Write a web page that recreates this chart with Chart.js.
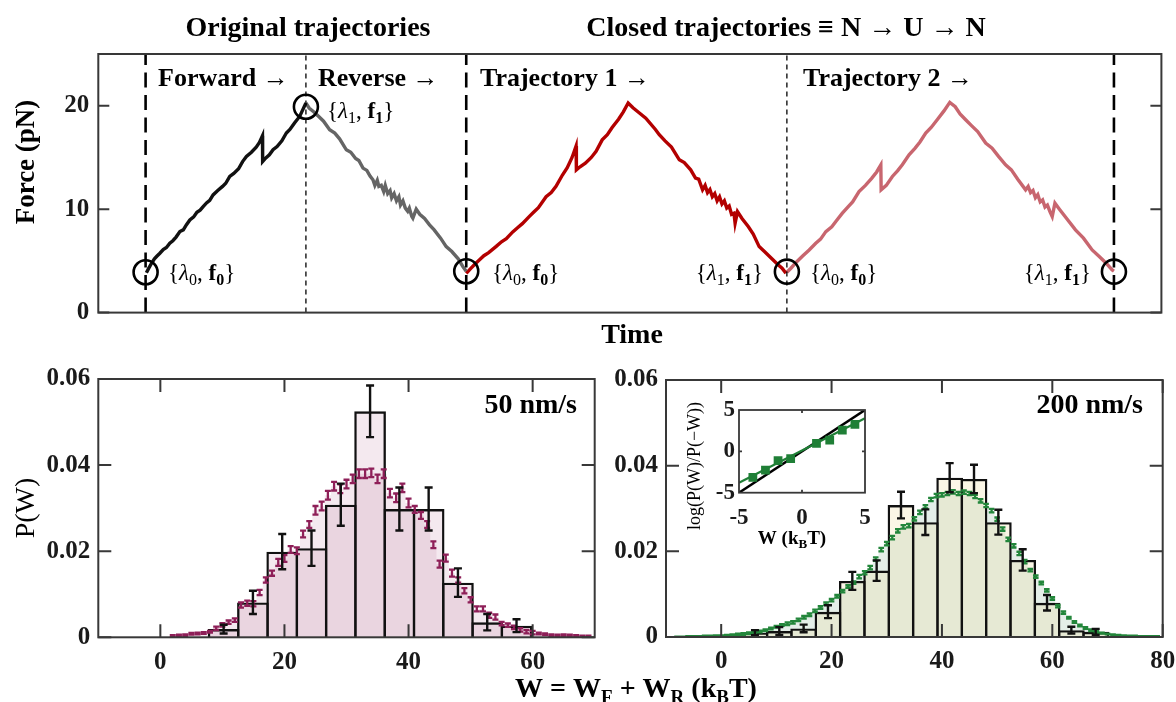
<!DOCTYPE html>
<html>
<head>
<meta charset="utf-8">
<script src="https://cdn.jsdelivr.net/npm/chart.js@4.4.1/dist/chart.umd.min.js"></script>
<style>
  body { margin: 0; background: #fff; }
  #wrap { position: relative; width: 1176px; height: 702px; }
  #wrap canvas { position: absolute; left: 0; top: 0; }
</style>
</head>
<body>
<div id="wrap">
  <canvas id="topChart" width="1176" height="702"></canvas>
  <canvas id="slowChart" width="1176" height="702"></canvas>
  <canvas id="fastChart" width="1176" height="702"></canvas>
  <canvas id="insetChart" width="1176" height="702"></canvas>
</div>
<script>
// ---------- top panel: force vs time (time in arbitrary units, 10 = one half cycle)
const fwdT = [0.05, 0.2, 0.37, 0.55, 0.7, 0.89, 1.1, 1.3, 1.51, 1.7, 1.9, 2.14, 2.35, 2.55, 2.76, 3.0, 3.2, 3.4, 3.59, 3.8, 4.0, 4.21, 4.5, 4.8, 5.0, 5.25, 5.5, 5.8, 6.05, 6.29, 6.6, 6.9, 7.1, 7.29, 7.3, 7.5, 7.72, 7.95, 8.2, 8.5, 8.78, 9.0, 9.3, 9.61, 9.8, 10.0];
const fwdF = [3.86, 4.3, 4.77, 5.2, 5.45, 5.74, 6.1, 6.3, 6.71, 6.95, 7.3, 7.83, 8.0, 8.5, 8.96, 9.25, 9.7, 9.9, 10.25, 10.6, 10.85, 11.38, 11.8, 12.2, 12.5, 13.16, 13.45, 13.9, 14.6, 15.09, 15.5, 16.0, 16.45, 17.1, 14.6, 14.95, 15.25, 15.74, 16.05, 16.6, 17.36, 17.7, 18.35, 18.96, 19.6, 20.26];

const revT = [10.0, 10.2, 10.5, 10.8, 11.1, 11.48, 11.8, 12.1, 12.52, 12.8, 13.1, 13.3, 13.56, 13.8, 14.0, 14.18, 14.3, 14.45, 14.55, 14.7, 14.85, 14.95, 15.1, 15.25, 15.35, 15.5, 15.65, 15.8, 15.9, 16.05, 16.2, 16.35, 16.45, 16.6, 16.67, 16.88, 17.1, 17.4, 17.71, 18.0, 18.4, 18.75, 19.1, 19.5, 19.79, 20.0];
const revF = [20.26, 19.78, 19.4, 18.95, 18.5, 17.68, 17.35, 16.8, 15.74, 15.5, 14.9, 14.7, 13.97, 13.75, 13.2, 12.84, 12.3, 12.8, 12.2, 12.3, 11.7, 12.3, 11.5, 11.8, 11.1, 11.5, 10.8, 11.2, 10.4, 10.8, 10.1, 9.8, 10.1, 9.3, 9.13, 10.0, 9.5, 9.1, 8.48, 8.0, 7.2, 6.38, 5.9, 5.2, 4.44, 4.0];

const tr1T = [20.0, 20.3, 20.55, 20.83, 21.1, 21.4, 21.87, 22.2, 22.5, 22.9, 23.2, 23.5, 23.94, 24.2, 24.5, 24.98, 25.3, 25.6, 26.0, 26.3, 26.6, 26.85, 26.87, 27.1, 27.43, 27.8, 28.1, 28.48, 28.8, 29.1, 29.5, 29.8, 30.1, 30.4, 30.8, 31.2, 31.8, 32.04, 32.4, 32.8, 33.29, 33.6, 34.0, 34.3, 34.5, 34.74, 34.9, 35.05, 35.2, 35.35, 35.5, 35.65, 35.8, 35.95, 36.1, 36.25, 36.4, 36.55, 36.7, 36.77, 36.92, 37.2, 37.6, 37.9, 38.27, 38.6, 39.0, 39.4, 39.7, 39.94];
const tr1F = [3.8, 4.3, 4.7, 5.1, 5.5, 5.8, 6.4, 6.85, 7.15, 7.8, 8.2, 8.6, 9.3, 9.7, 10.15, 11.2, 11.6, 12.2, 13.3, 14.0, 15.0, 16.1, 13.8, 14.1, 14.45, 15.0, 15.6, 16.7, 17.2, 17.9, 18.7, 19.4, 20.26, 19.8, 19.3, 18.8, 17.7, 17.2, 16.6, 16.0, 14.77, 14.5, 13.8, 13.0, 12.9, 11.87, 12.3, 11.6, 11.9, 11.2, 11.5, 10.8, 11.2, 10.5, 10.8, 10.1, 10.3, 9.5, 9.6, 8.64, 9.77, 9.1, 8.3, 7.6, 6.38, 5.9, 5.3, 4.7, 4.3, 3.8];

const tr2T = [40.0, 40.25, 40.6, 41.0, 41.39, 41.8, 42.1, 42.43, 42.8, 43.1, 43.46, 43.8, 44.1, 44.5, 44.9, 45.3, 45.6, 45.86, 45.88, 46.2, 46.58, 46.9, 47.2, 47.62, 48.0, 48.3, 48.66, 49.0, 49.4, 49.8, 50.16, 50.5, 50.8, 51.15, 51.5, 51.9, 52.4, 52.8, 53.2, 53.64, 54.0, 54.4, 54.89, 55.05, 55.2, 55.35, 55.5, 55.65, 55.8, 55.95, 56.1, 56.25, 56.4, 56.55, 56.72, 57.0, 57.4, 58.0, 58.5, 59.04, 59.5, 59.9, 60.29, 60.4];
const tr2F = [3.9, 4.29, 4.9, 5.5, 6.06, 6.7, 7.1, 7.83, 8.3, 8.9, 9.61, 10.2, 10.7, 11.7, 12.3, 13.0, 13.6, 14.29, 11.87, 12.3, 13.16, 13.7, 14.3, 15.26, 15.9, 16.5, 17.36, 17.9, 18.7, 19.5, 20.32, 19.9, 19.2, 18.64, 18.1, 17.5, 16.39, 15.9, 15.1, 14.29, 13.8, 12.9, 11.87, 12.2, 11.6, 11.8, 11.1, 11.4, 10.7, 10.9, 10.2, 10.4, 9.8, 9.29, 10.58, 10.0, 9.2, 8.0, 7.2, 6.06, 5.4, 4.8, 4.12, 4.0];

const markT = [0, 10, 20, 40, 60.4];        // circled {lambda, f} points
const markF = [3.9, 19.9, 4.0, 3.96, 3.96];
const dashT = [0, 20, 60.4];                // thick dashed separators
const dotT = [10, 40];                      // thin dotted separators
const forceRange = [0, 25];
const forceTicks = [0, 10, 20];

// ---------- bottom left: 50 nm/s
const slowBinW = [10.2, 14.92, 19.64, 24.36, 29.08, 33.8, 38.52, 43.24, 47.96, 52.68, 57.4];
const slowBinP = [0.0019, 0.0081, 0.0199, 0.0207, 0.0308, 0.0525, 0.0298, 0.0298, 0.0127, 0.0035, 0.0027];
const slowBinE = [0.0010, 0.0027, 0.0041, 0.0041, 0.0049, 0.0060, 0.0050, 0.0050, 0.0033, 0.0019, 0.0015];

const slowFineW = [2, 3, 4, 5, 6, 7, 8, 9, 10, 11, 12, 13, 14, 15, 16, 17, 18, 19, 20, 21, 22, 23, 24, 25, 26, 27, 28, 29, 30, 31, 32, 33, 34, 35, 36, 37, 38, 39, 40, 41, 42, 43, 44, 45, 46, 47, 48, 49, 50, 51, 52, 53, 54, 55, 56, 57, 58, 59, 60, 61, 62, 63, 64, 65, 66, 67, 68, 69];
const slowFineP = [0.0003, 0.0004, 0.0005, 0.0008, 0.0009, 0.0010, 0.0013, 0.0021, 0.0029, 0.0035, 0.0040, 0.0075, 0.0079, 0.0078, 0.0104, 0.0133, 0.0149, 0.0174, 0.0183, 0.0204, 0.0201, 0.0240, 0.0262, 0.0295, 0.0305, 0.0330, 0.0351, 0.0345, 0.0356, 0.0368, 0.0380, 0.0380, 0.0382, 0.0368, 0.0380, 0.0335, 0.0324, 0.0347, 0.0312, 0.0297, 0.0283, 0.0262, 0.0215, 0.0170, 0.0184, 0.0149, 0.0133, 0.0108, 0.0087, 0.0066, 0.0066, 0.0051, 0.0047, 0.0032, 0.0028, 0.0023, 0.0017, 0.0013, 0.0011, 0.0009, 0.0007, 0.0005, 0.0004, 0.0005, 0.0004, 0.0003, 0.0002, 0.0002];
const slowFineE = [0.0002, 0.0002, 0.0002, 0.0002, 0.0002, 0.0002, 0.0002, 0.0004, 0.0004, 0.0004, 0.0004, 0.0006, 0.0006, 0.0006, 0.0006, 0.0006, 0.0006, 0.0008, 0.0008, 0.0008, 0.0008, 0.0008, 0.0008, 0.0010, 0.0010, 0.0010, 0.0010, 0.0010, 0.0010, 0.0010, 0.0010, 0.0010, 0.0010, 0.0010, 0.0010, 0.0010, 0.0010, 0.0010, 0.0010, 0.0008, 0.0008, 0.0008, 0.0008, 0.0008, 0.0008, 0.0008, 0.0006, 0.0006, 0.0006, 0.0006, 0.0006, 0.0006, 0.0006, 0.0004, 0.0004, 0.0004, 0.0004, 0.0004, 0.0004, 0.0002, 0.0002, 0.0002, 0.0002, 0.0002, 0.0002, 0.0002, 0.0002, 0.0002];
const slowXTicks = [0, 20, 40, 60];

// ---------- bottom right: 200 nm/s
const fastBinW = [6.12, 10.53, 14.94, 19.35, 23.76, 28.17, 32.58, 36.99, 41.4, 45.81, 50.22, 54.63, 59.04, 63.45, 67.86];
const fastBinP = [0.0010, 0.0014, 0.0020, 0.0059, 0.0131, 0.0155, 0.0308, 0.0268, 0.0372, 0.0369, 0.0268, 0.0180, 0.0080, 0.0016, 0.0012];
const fastBinE = [0.0006, 0.0009, 0.0009, 0.0015, 0.0021, 0.0024, 0.0031, 0.0030, 0.0034, 0.0033, 0.0029, 0.0025, 0.0018, 0.0008, 0.0007];

const fastFineW = [-8, -7, -6, -5, -4, -3, -2, -1, 0, 1, 2, 3, 4, 5, 6, 7, 8, 9, 10, 11, 12, 13, 14, 15, 16, 17, 18, 19, 20, 21, 22, 23, 24, 25, 26, 27, 28, 29, 30, 31, 32, 33, 34, 35, 36, 37, 38, 39, 40, 41, 42, 43, 44, 45, 46, 47, 48, 49, 50, 51, 52, 53, 54, 55, 56, 57, 58, 59, 60, 61, 62, 63, 64, 65, 66, 67, 68, 69, 70, 71, 72, 73, 74, 75, 76, 77, 78, 79];
const fastFineP = [0.0000, 0.0000, 0.0001, 0.0001, 0.0001, 0.0002, 0.0002, 0.0003, 0.0003, 0.0004, 0.0005, 0.0006, 0.0007, 0.0009, 0.0011, 0.0013, 0.0016, 0.0020, 0.0024, 0.0028, 0.0031, 0.0034, 0.0040, 0.0046, 0.0052, 0.0061, 0.0069, 0.0078, 0.0086, 0.0095, 0.0107, 0.0118, 0.0127, 0.0141, 0.0150, 0.0162, 0.0182, 0.0204, 0.0218, 0.0232, 0.0248, 0.0257, 0.0260, 0.0276, 0.0291, 0.0304, 0.0321, 0.0330, 0.0332, 0.0335, 0.0339, 0.0335, 0.0338, 0.0335, 0.0328, 0.0318, 0.0307, 0.0295, 0.0275, 0.0252, 0.0228, 0.0213, 0.0195, 0.0176, 0.0156, 0.0141, 0.0126, 0.0109, 0.0090, 0.0072, 0.0057, 0.0045, 0.0035, 0.0027, 0.0021, 0.0016, 0.0012, 0.0009, 0.0007, 0.0005, 0.0004, 0.0003, 0.0002, 0.0002, 0.0001, 0.0001, 0.0001, 0.0001];
const fastFineE = [0.0001, 0.0001, 0.0001, 0.0001, 0.0001, 0.0001, 0.0001, 0.0001, 0.0001, 0.0001, 0.0001, 0.0002, 0.0002, 0.0002, 0.0002, 0.0002, 0.0002, 0.0002, 0.0002, 0.0002, 0.0003, 0.0003, 0.0003, 0.0003, 0.0003, 0.0003, 0.0003, 0.0003, 0.0003, 0.0003, 0.0003, 0.0003, 0.0003, 0.0004, 0.0004, 0.0004, 0.0004, 0.0004, 0.0004, 0.0004, 0.0004, 0.0004, 0.0004, 0.0004, 0.0004, 0.0004, 0.0004, 0.0004, 0.0004, 0.0004, 0.0004, 0.0004, 0.0004, 0.0004, 0.0004, 0.0004, 0.0004, 0.0004, 0.0004, 0.0004, 0.0004, 0.0004, 0.0004, 0.0004, 0.0003, 0.0003, 0.0003, 0.0003, 0.0003, 0.0003, 0.0003, 0.0002, 0.0002, 0.0002, 0.0002, 0.0002, 0.0002, 0.0001, 0.0001, 0.0001, 0.0001, 0.0001, 0.0001, 0.0001, 0.0001, 0.0001, 0.0001, 0.0001];
const fastXTicks = [0, 20, 40, 60, 80];
const probTicks = [0, 0.02, 0.04, 0.06];

// ---------- inset: log(P(W)/P(-W)) vs W
const insetW = [-3.9, -2.9, -1.9, -0.9, 1.15, 2.2, 3.2, 4.2];
const insetR = [-3.15, -2.26, -1.13, -0.89, 0.97, 1.37, 2.58, 3.27];
const fitW = [-5, 5];
const fitR = [-3.8, 4.0];
const diagW = [-5, 5];
const diagR = [-5, 5];
const insetTicks = [-5, 0, 5];

// ---------- helpers
const PAGE_W = 1176, PAGE_H = 702;
const SERIF = '"Liberation Serif", "Times New Roman", serif';
const INK = '#1a1a1a';

const pts = (xs, ys) => xs.map((x, i) => ({ x: x, y: ys[i] }));
const tickList = arr => s => { s.ticks = arr.map(v => ({ value: v })); };

// writes a line of text made of [string, flags] pieces: b bold, i italic, s subscript
function richText(ctx, x, y, parts, size, align) {
  const fontOf = f => (f.includes('i') ? 'italic ' : '') + (f.includes('b') ? 'bold ' : '') +
    Math.round(f.includes('s') ? size * 0.68 : size) + 'px ' + SERIF;
  let total = 0;
  parts.forEach(([t, f]) => { ctx.font = fontOf(f); total += ctx.measureText(t).width; });
  let cx = align === 'center' ? x - total / 2 : align === 'right' ? x - total : x;
  ctx.textAlign = 'left';
  ctx.textBaseline = 'alphabetic';
  parts.forEach(([t, f]) => {
    ctx.font = fontOf(f);
    ctx.fillText(t, cx, y + (f.includes('s') ? size * 0.22 : 0));
    cx += ctx.measureText(t).width;
  });
}

function rotatedText(ctx, x, y, parts, size) {
  ctx.save();
  ctx.translate(x, y);
  ctx.rotate(-Math.PI / 2);
  richText(ctx, 0, 0, parts, size, 'center');
  ctx.restore();
}

function drawFrame(chart, xt, yt, len, lw) {
  const { ctx, chartArea: a, scales } = chart;
  ctx.save();
  ctx.strokeStyle = '#383838';
  ctx.lineWidth = lw;
  ctx.strokeRect(a.left, a.top, a.right - a.left, a.bottom - a.top);
  ctx.beginPath();
  xt.forEach(v => {
    const p = scales.x.getPixelForValue(v);
    ctx.moveTo(p, a.bottom); ctx.lineTo(p, a.bottom - len);
    ctx.moveTo(p, a.top); ctx.lineTo(p, a.top + len);
  });
  yt.forEach(v => {
    const p = scales.y.getPixelForValue(v);
    ctx.moveTo(a.left, p); ctx.lineTo(a.left + len, p);
    ctx.moveTo(a.right, p); ctx.lineTo(a.right - len, p);
  });
  ctx.stroke();
  ctx.restore();
}

function drawErrors(chart, xs, ys, es, color, lw, cap) {
  const { ctx, chartArea: a, scales } = chart;
  ctx.save();
  ctx.beginPath();
  ctx.rect(a.left, a.top, a.right - a.left, a.bottom - a.top);
  ctx.clip();
  ctx.strokeStyle = color;
  ctx.lineWidth = lw;
  ctx.beginPath();
  xs.forEach((w, i) => {
    const px = scales.x.getPixelForValue(w);
    const top = scales.y.getPixelForValue(ys[i] + es[i]);
    const bot = scales.y.getPixelForValue(ys[i] - es[i]);
    ctx.moveTo(px, top); ctx.lineTo(px, bot);
    ctx.moveTo(px - cap, top); ctx.lineTo(px + cap, top);
    ctx.moveTo(px - cap, bot); ctx.lineTo(px + cap, bot);
  });
  ctx.stroke();
  ctx.restore();
}

// fixes the plot box at [left, top, right, bottom] page pixels
function boxOptions(area, yStart, xH) {
  return {
    padding: { left: yStart, top: area[1], right: PAGE_W - area[2], bottom: PAGE_H - area[3] - xH },
    yFit: s => { s.width = area[0] - yStart; s.paddingTop = 0; s.paddingBottom = 0; },
    xFit: s => { s.height = xH; s.paddingLeft = 0; s.paddingRight = 0; }
  };
}

const base = {
  responsive: false,
  animation: false,
  events: [],
  plugins: { legend: { display: false }, tooltip: { enabled: false } }
};
const tickFont = { family: SERIF, size: 25, weight: 'bold' };

// ---------- top chart
const topBox = boxOptions([98.3, 54, 1162.7, 312.6], 0, 0);

function trace(t, f, color) {
  return { data: pts(t, f), borderColor: color, borderWidth: 3.4, pointRadius: 0, tension: 0, fill: false, order: 2 };
}
function vline(t, dash, width) {
  return { data: pts([t, t], forceRange), borderColor: '#000', borderWidth: width, borderDash: dash, pointRadius: 0, fill: false, order: 1 };
}

const ann0 = [['{', ''], ['λ', 'i'], ['0', 's'], [', ', ''], ['f', 'b'], ['0', 'bs'], ['}', '']];
const ann1 = [['{', ''], ['λ', 'i'], ['1', 's'], [', ', ''], ['f', 'b'], ['1', 'bs'], ['}', '']];

new Chart(document.getElementById('topChart'), {
  type: 'line',
  data: {
    datasets: [
      { data: pts(markT, markF), showLine: false, pointRadius: 12, pointBorderWidth: 2.6, pointBorderColor: '#000', pointBackgroundColor: 'rgba(0,0,0,0)', order: 0 },
      ...dashT.map(t => vline(t, [15, 7.5], 2.6)),
      ...dotT.map(t => vline(t, [5, 4], 1.3)),
      trace(fwdT, fwdF, '#111111'),
      trace(revT, revF, '#656565'),
      trace(tr1T, tr1F, '#b30000'),
      trace(tr2T, tr2F, '#c8666f')
    ]
  },
  options: {
    ...base,
    layout: { padding: topBox.padding },
    scales: {
      x: { type: 'linear', min: -2.95, max: 63.36, display: false },
      y: {
        min: forceRange[0], max: forceRange[1],
        grid: { display: false, drawTicks: false }, border: { display: false },
        afterBuildTicks: tickList(forceTicks), afterFit: topBox.yFit,
        ticks: { font: tickFont, color: INK, padding: 9 }
      }
    }
  },
  plugins: [{
    id: 'topDecor',
    afterDatasetsDraw(chart) { drawFrame(chart, [], forceTicks, 11, 2); },
    afterDraw(chart) {
      const ctx = chart.ctx;
      ctx.save();
      ctx.fillStyle = '#000';
      richText(ctx, 308, 36, [['Original trajectories', 'b']], 28, 'center');
      richText(ctx, 786, 36, [['Closed trajectories ≡ N → U → N', 'b']], 28, 'center');
      richText(ctx, 158, 86, [['Forward →', 'b']], 26, 'left');
      richText(ctx, 318, 86, [['Reverse →', 'b']], 26, 'left');
      richText(ctx, 480, 86, [['Trajectory 1 →', 'b']], 26, 'left');
      richText(ctx, 803, 86, [['Trajectory 2 →', 'b']], 26, 'left');
      richText(ctx, 168, 280, ann0, 23, 'left');
      richText(ctx, 327, 118, ann1, 23, 'left');
      richText(ctx, 492, 280, ann0, 23, 'left');
      richText(ctx, 763, 280, ann1, 23, 'right');
      richText(ctx, 810, 280, ann0, 23, 'left');
      richText(ctx, 1091, 280, ann1, 23, 'right');
      richText(ctx, 632, 343, [['Time', 'b']], 28, 'center');
      rotatedText(ctx, 34, 162, [['Force (pN)', 'b']], 27);
      ctx.restore();
    }
  }]
});

// ---------- histogram charts
function histChart(id, area, yStart, xRange, xTicks, bins, fine, colors, decor) {
  const box = boxOptions(area, yStart, 48);
  return new Chart(document.getElementById(id), {
    type: 'bar',
    data: {
      datasets: [
        {
          type: 'bar', data: pts(bins.w, bins.p), grouped: false,
          categoryPercentage: 1, barPercentage: bins.overlap,
          backgroundColor: colors.bar, borderColor: '#111', borderWidth: 2.4, order: 1
        },
        {
          type: 'line', data: pts(fine.w, fine.p), stepped: 'middle', fill: 'origin',
          backgroundColor: colors.fine, borderWidth: 0, pointRadius: 0, order: 2
        }
      ]
    },
    options: {
      ...base,
      layout: { padding: box.padding },
      scales: {
        x: {
          type: 'linear', min: xRange[0], max: xRange[1], offset: false,
          grid: { display: false, drawTicks: false, offset: false }, border: { display: false },
          afterBuildTicks: tickList(xTicks), afterFit: box.xFit,
          ticks: { font: tickFont, color: INK, padding: 10 }
        },
        y: {
          min: 0, max: 0.06,
          grid: { display: false, drawTicks: false }, border: { display: false },
          afterBuildTicks: tickList(probTicks), afterFit: box.yFit,
          ticks: { font: tickFont, color: INK, padding: 8, callback: v => v === 0 ? '0' : v.toFixed(2) }
        }
      }
    },
    plugins: [{
      id: id + 'Decor',
      afterDatasetsDraw(chart) {
        drawErrors(chart, fine.w, fine.p, fine.e, colors.err, 2.3, colors.cap);
        drawErrors(chart, bins.w, bins.p, bins.e, '#111', 2.4, 4);
        drawFrame(chart, xTicks, probTicks, 13, 2);
      },
      afterDraw(chart) {
        const ctx = chart.ctx;
        ctx.save();
        ctx.fillStyle = '#000';
        decor(ctx);
        ctx.restore();
      }
    }]
  });
}

histChart('slowChart', [98.3, 379, 594.7, 637.3], 0, [-10, 70], slowXTicks,
  { w: slowBinW, p: slowBinP, e: slowBinE, overlap: 1.082 },
  { w: slowFineW, p: slowFineP, e: slowFineE },
  { bar: 'rgba(150,40,100,0.10)', fine: 'rgba(150,40,100,0.10)', err: '#8e1f58', cap: 3 },
  ctx => {
    richText(ctx, 577, 413, [['50 nm/s', 'b']], 28, 'right');
    rotatedText(ctx, 34, 508, [['P(W)', '']], 28);
    richText(ctx, 636, 697, [['W = W', 'b'], ['F', 'bs'], [' + W', 'b'], ['R', 'bs'], [' (k', 'b'], ['B', 'bs'], ['T)', 'b']], 28, 'center');
  });

histChart('fastChart', [666, 380, 1162.7, 637], 600, [-10, 80], fastXTicks,
  { w: fastBinW, p: fastBinP, e: fastBinE, overlap: 1.099 },
  { w: fastFineW, p: fastFineP, e: fastFineE },
  { bar: 'rgba(235,210,130,0.20)', fine: 'rgba(90,150,110,0.16)', err: '#23863b', cap: 2.8 },
  ctx => {
    richText(ctx, 1143, 413, [['200 nm/s', 'b']], 28, 'right');
  });

// ---------- inset
const insetBox = boxOptions([739, 410, 865, 492.7], 700, 44);
new Chart(document.getElementById('insetChart'), {
  type: 'line',
  data: {
    datasets: [
      { data: pts(insetW, insetR), showLine: false, pointStyle: 'rect', pointRadius: 6.2, pointBackgroundColor: '#1f7f36', pointBorderWidth: 0, order: 0 },
      { data: pts(fitW, fitR), borderColor: '#1f7f36', borderWidth: 2.2, pointRadius: 0, order: 1 },
      { data: pts(diagW, diagR), borderColor: '#000', borderWidth: 2.5, pointRadius: 0, order: 2 }
    ]
  },
  options: {
    ...base,
    layout: { padding: insetBox.padding },
    scales: {
      x: {
        type: 'linear', min: -5, max: 5,
        grid: { display: false, drawTicks: false }, border: { display: false },
        afterBuildTicks: tickList(insetTicks), afterFit: insetBox.xFit,
        ticks: { font: { family: SERIF, size: 23, weight: 'bold' }, color: INK, padding: 12 }
      },
      y: {
        min: -5, max: 5,
        grid: { display: false, drawTicks: false }, border: { display: false },
        afterBuildTicks: tickList(insetTicks), afterFit: insetBox.yFit,
        ticks: { font: { family: SERIF, size: 23, weight: 'bold' }, color: INK, padding: 4 }
      }
    }
  },
  plugins: [{
    id: 'insetDecor',
    afterDatasetsDraw(chart) { drawFrame(chart, [0], [0], 3, 1.8); },
    afterDraw(chart) {
      const ctx = chart.ctx;
      ctx.save();
      ctx.fillStyle = '#000';
      richText(ctx, 792, 544, [['W (k', 'b'], ['B', 'bs'], ['T)', 'b']], 19, 'center');
      rotatedText(ctx, 700, 466, [['log(P(W)/P(−W))', '']], 18);
      ctx.restore();
    }
  }]
});
</script>
</body>
</html>
